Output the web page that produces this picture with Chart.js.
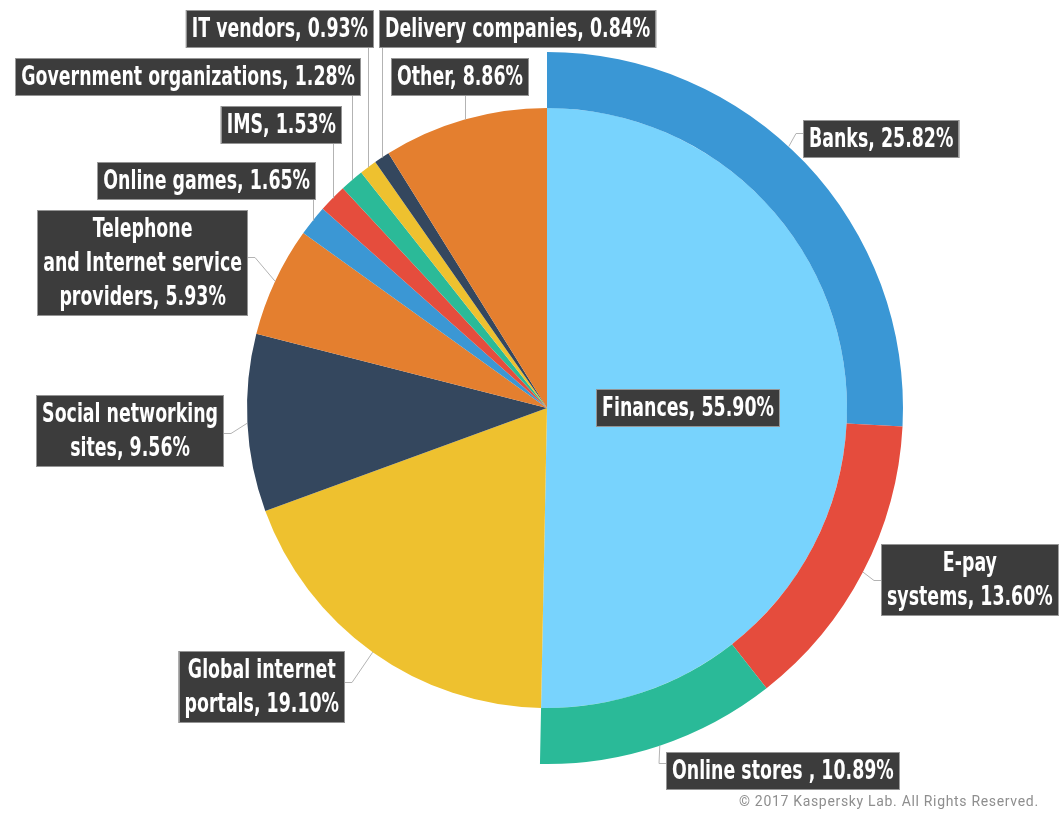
<!DOCTYPE html>
<html><head><meta charset="utf-8">
<script src="https://cdn.jsdelivr.net/npm/chart.js@4.4.0/dist/chart.umd.min.js"></script>
<style>html,body{margin:0;padding:0;background:#fff;}canvas{display:block;}</style>
</head><body>
<canvas id="c" width="1062" height="816"></canvas>
<script>
// ---------------- data ----------------
const innerCategories = ['Finances', 'Global internet portals', 'Social networking sites',
  'Telephone and Internet service providers', 'Online games', 'IMS',
  'Government organizations', 'IT vendors', 'Delivery companies', 'Other'];
const innerPercents = [55.90, 19.10, 9.56, 5.93, 1.65, 1.53, 1.28, 0.93, 0.84, 8.86];
const financeCategories = ['Banks', 'E-pay systems', 'Online stores '];
const financePercents = [25.82, 13.60, 10.89];
const copyrightText = '\u00A9 2017 Kaspersky Lab. All Rights Reserved.';

// drawn slice of "Finances" = its three sub-segments on the outer ring
const financeSlice = +financePercents.reduce((a, b) => a + b, 0).toFixed(2);
const innerValues = innerPercents.map((v, i) => i === 0 ? financeSlice : v);
const ringValues = financePercents.concat([+innerValues.slice(1).reduce((a, b) => a + b, 0).toFixed(2)]);

// ---------------- style ----------------
const innerColors = ['#78d3fd', '#eec12f', '#34475e', '#e47f2f', '#3b97d4', '#e54d3d', '#2bba98', '#eec12f', '#34475e', '#e47f2f'];
const ringColors = ['#3a97d5', '#e54c3d', '#2aba98', 'rgba(0,0,0,0)'];

const LABEL_FONT = 'bold 27px "Liberation Sans Narrow", "DejaVu Sans Condensed", Roboto, sans-serif';
const REF_TEXTS = ['IT vendors, 0.93%', 'Government organizations, 1.28%'], REF_WIDTH = 173 + 337;
const LINE_H = 34, PAD_X = 6;

// layout of label boxes (ds: 0 = ring, 1 = inner)
const labelLayout = [
  {ds: 0, i: 0, left: 803, top: 120, leader: 'left', frac: 0.46, ly: 133},
  {ds: 0, i: 1, left: 881, top: 544, leader: 'left', wrap: [1, 2], ly: 580},
  {ds: 0, i: 2, left: 666, top: 752, leader: 'left', ly: 763},
  {ds: 1, i: 0, center: 688, top: 389, leader: 'none'},
  {ds: 1, i: 1, right: 345, top: 651, leader: 'right', wrap: [2, 2], ly: 682},
  {ds: 1, i: 2, right: 224, top: 395, leader: 'right', wrap: [2, 2], ly: 433},
  {ds: 1, i: 3, right: 248, top: 210, leader: 'right', wrap: [1, 3, 2], ly: 257},
  {ds: 1, i: 4, right: 316, top: 162, leader: 'up'},
  {ds: 1, i: 5, right: 342, top: 106, leader: 'up'},
  {ds: 1, i: 6, right: 361, top: 58, leader: 'up'},
  {ds: 1, i: 7, right: 374, top: 10, leader: 'up'},
  {ds: 1, i: 8, left: 379, top: 10, leader: 'up'},
  {ds: 1, i: 9, left: 391, top: 58, leader: 'up'}
];

function labelLines(L) {
  const names = L.ds === 0 ? financeCategories : innerCategories;
  const pcts = L.ds === 0 ? financePercents : innerPercents;
  const text = names[L.i] + ', ' + pcts[L.i].toFixed(2) + '%';
  if (!L.wrap) return [text];
  const words = text.split(' ');
  const out = []; let k = 0;
  L.wrap.forEach(n => { out.push(words.slice(k, k + n).join(' ')); k += n; });
  return out;
}

const labelPlugin = {
  id: 'sliceLabels',
  afterDatasetsDraw(chart) {
    const ctx = chart.ctx;
    ctx.save();
    ctx.font = LABEL_FONT;
    const sx = REF_WIDTH / REF_TEXTS.reduce((s, t) => s + ctx.measureText(t).width, 0);
    const items = labelLayout.map(L => {
      const lines = labelLines(L);
      const w = Math.max(...lines.map(s => ctx.measureText(s).width)) * sx + 2 * PAD_X;
      const h = LINE_H * lines.length + 4;
      let x;
      if (L.left !== undefined) x = L.left;
      else if (L.right !== undefined) x = L.right - w;
      else x = L.center - w / 2;
      const arc = chart.getDatasetMeta(L.ds).data[L.i];
      const f = L.frac === undefined ? 0.5 : L.frac;
      const a = arc.startAngle + f * (arc.endAngle - arc.startAngle);
      const px = arc.x + Math.cos(a) * arc.outerRadius;
      const py = arc.y + Math.sin(a) * arc.outerRadius;
      return {L, lines, x, y: L.top, w, h, px, py};
    });
    // leader lines
    ctx.strokeStyle = '#b3b3b3';
    ctx.lineWidth = 1;
    items.forEach(it => {
      const L = it.L;
      if (L.leader === 'none') return;
      ctx.beginPath();
      if (L.leader === 'up') {
        const xx = Math.round(it.px) + 0.5;
        ctx.moveTo(xx, it.py);
        ctx.lineTo(xx, it.y + it.h);
      } else if (L.leader === 'right') {
        const ex = it.x + it.w;
        ctx.moveTo(it.px, it.py);
        ctx.lineTo(ex + 7, L.ly + 0.5);
        ctx.lineTo(ex, L.ly + 0.5);
      } else {
        ctx.moveTo(it.px, it.py);
        ctx.lineTo(it.x - 7, L.ly + 0.5);
        ctx.lineTo(it.x, L.ly + 0.5);
      }
      ctx.stroke();
    });
    // boxes and text
    items.forEach(it => {
      ctx.fillStyle = '#3c3c3c';
      ctx.fillRect(it.x, it.y, it.w, it.h);
      ctx.strokeStyle = 'rgba(170,170,170,0.8)';
      ctx.lineWidth = 1;
      ctx.strokeRect(Math.round(it.x) + 0.5, it.y + 0.5, Math.round(it.w) - 1, it.h - 1);
      ctx.fillStyle = '#ffffff';
      ctx.textAlign = 'center';
      ctx.textBaseline = 'middle';
      it.lines.forEach((s, k) => {
        ctx.save();
        ctx.translate(it.x + it.w / 2, it.y + 2 + LINE_H / 2 + k * LINE_H + 1);
        ctx.scale(sx, 1);
        ctx.fillText(s, 0, 0);
        ctx.restore();
      });
    });
    // copyright
    ctx.font = '14px Roboto, "Open Sans", sans-serif';
    ctx.fillStyle = '#8e8e8e';
    ctx.textAlign = 'left';
    ctx.textBaseline = 'alphabetic';
    const cw = ctx.measureText(copyrightText).width;
    const spacing = (299 - cw) / (copyrightText.length - 1);
    ctx.letterSpacing = spacing.toFixed(2) + 'px';
    ctx.fillText(copyrightText, 739, 806);
    ctx.letterSpacing = '0px';
    ctx.restore();
  }
};

new Chart(document.getElementById('c'), {
  type: 'pie',
  data: {
    labels: innerCategories,
    datasets: [
      {label: 'Finances breakdown', data: ringValues, backgroundColor: ringColors, weight: 56},
      {label: 'Categories', data: innerValues, backgroundColor: innerColors, weight: 300}
    ]
  },
  options: {
    responsive: false,
    animation: false,
    radius: 356,
    borderWidth: 0,
    hoverOffset: 0,
    layout: {padding: {left: 90, right: 58, top: 40, bottom: 40}},
    plugins: {legend: {display: false}, tooltip: {enabled: false}}
  },
  plugins: [labelPlugin]
});
</script>
</body></html>
